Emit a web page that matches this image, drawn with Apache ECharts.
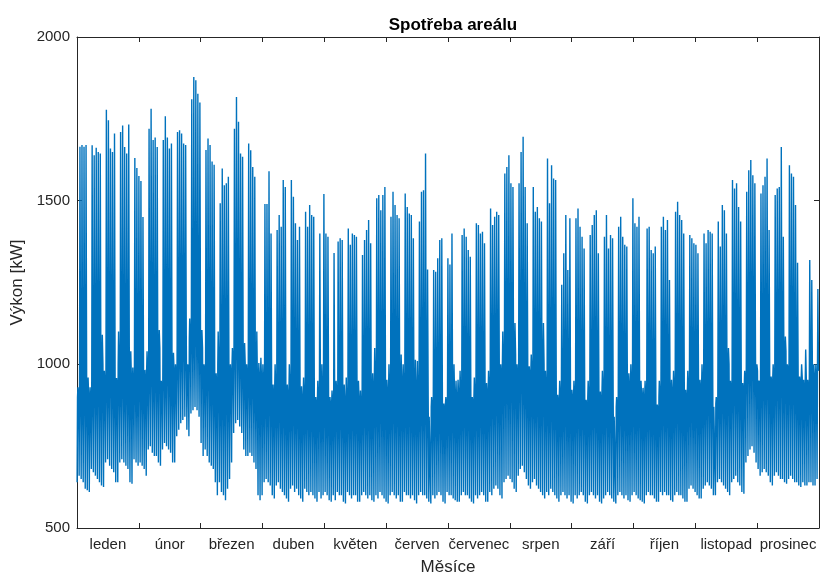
<!DOCTYPE html>
<html>
<head>
    <meta charset="utf-8">
    <title>Spotřeba areálu</title>
    <script src="https://cdn.jsdelivr.net/npm/echarts@6/dist/echarts.min.js"></script>
    <style>
        html, body { margin: 0; padding: 0; background: #fff; }
        #main { width: 821px; height: 575px; }
    </style>
</head>
<body>
<div id="main"></div>
<script>
    // měsíce na ose x
    var months = ['leden', 'únor', 'březen', 'duben', 'květen', 'červen',
        'červenec', 'srpen', 'září', 'říjen', 'listopad', 'prosinec'];

    // denní maxima [kW], po týdnech Po..Ne (rok začíná pondělím)
    var dayPeak = [
        930, 1665, 1670, 1665, 1670, 960, 930,
        1669, 1639, 1662, 1649, 1644, 1090, 980,
        1778, 1746, 1659, 1649, 1705, 958, 1100,
        1710, 1730, 1664, 1644, 1733, 1040, 990,
        1630, 1600, 1575, 1560, 1450, 983, 1040,
        1720, 1781, 1685, 1693, 1664, 1105, 950,
        1685, 1758, 1693, 1659, 1675, 1035, 1000,
        1710, 1715, 1705, 1675, 1670, 1000, 1140,
        1810, 1878, 1868, 1827, 1800, 1105, 1000,
        1655, 1690, 1670, 1620, 1610, 973, 1100,
        1492, 1598, 1547, 1553, 1573, 1000, 1050,
        1720, 1817, 1741, 1644, 1634, 1065, 1000,
        1675, 1654, 1603, 1573, 1100, 1004, 1020,
        1000, 1490, 1490, 1590, 1400, 938, 1000,
        1410, 1456, 1420, 1563, 1542, 938, 1000,
        1563, 1512, 1431, 1380, 1420, 933, 960,
        1466, 1420, 1487, 1456, 1451, 900, 950,
        1400, 1000, 1520, 1400, 1390, 900, 920,
        1340, 950, 1375, 1385, 1380, 938, 960,
        1415, 1365, 1400, 1395, 1390, 950, 920,
        1334, 1380, 1410, 1441, 1370, 973, 1050,
        1507, 1517, 1471, 1517, 1542, 953, 1000,
        1451, 1527, 1487, 1456, 1446, 1030, 1000,
        1522, 1481, 1461, 1456, 1385, 1014, 1010,
        1436, 1527, 1532, 1644, 1290, 846, 900,
        1288, 1283, 1324, 1380, 1385, 880, 900,
        1324, 1305, 1400, 1000, 950, 953, 980,
        1395, 1415, 1390, 1349, 1329, 900, 960,
        1431, 1426, 1400, 1405, 1370, 943, 980,
        1476, 1426, 1451, 1466, 1456, 1000, 1100,
        1583, 1603, 1639, 1553, 1542, 1126, 1000,
        1553, 1649, 1695, 1542, 1431, 994, 1030,
        1542, 1466, 1481, 1446, 1436, 1126, 980,
        1629, 1492, 1608, 1568, 1563, 907, 950,
        1243, 1339, 1456, 1288, 1446, 922, 950,
        1446, 1476, 1420, 1390, 1354, 892, 950,
        1395, 1426, 1456, 1471, 1339, 917, 980,
        1390, 1456, 1354, 1395, 1385, 841, 900,
        1420, 1451, 1390, 1365, 1360, 973, 1000,
        1507, 1431, 1420, 1451, 950, 928, 950,
        1415, 1420, 1349, 1339, 1360, 877, 950,
        1420, 1451, 1410, 1441, 1258, 953, 980,
        1466, 1497, 1456, 1441, 1400, 922, 980,
        1395, 1385, 1370, 1365, 1339, 953, 1000,
        1400, 1370, 1410, 1405, 1400, 872, 900,
        1436, 1360, 1487, 1471, 1400, 1050, 950,
        1563, 1537, 1553, 1481, 1436, 943, 980,
        1527, 1593, 1624, 1578, 1553, 1000, 950,
        1522, 1547, 1573, 1629, 1410, 963, 1000,
        1517, 1537, 1542, 1664, 1390, 1085, 1000,
        1608, 1583, 1573, 1487, 1310, 963, 1000,
        953, 1045, 953, 1319, 1258, 1000, 1000,
        1230
    ];

    // denní minima [kW] (noc)
    var dayLow = [
        640, 660, 650, 640, 620, 615, 610,
        680, 670, 660, 650, 640, 630, 625,
        700, 710, 690, 680, 670, 640, 640,
        700, 710, 700, 690, 680, 640, 635,
        710, 700, 690, 700, 690, 680, 660,
        740, 750, 730, 720, 720, 700, 690,
        740, 760, 750, 740, 730, 700, 700,
        780, 800, 820, 830, 840, 800, 780,
        850, 860, 870, 860, 840, 760, 720,
        740, 720, 700, 690, 680, 640, 600,
        640, 610, 600, 585, 620, 650, 700,
        790, 820, 830, 810, 790, 740, 720,
        720, 730, 720, 700, 680, 600, 585,
        600, 640, 650, 640, 630, 600, 590,
        630, 640, 620, 610, 600, 590, 580,
        620, 630, 610, 620, 600, 590, 580,
        620, 610, 600, 610, 600, 590, 580,
        610, 590, 600, 610, 600, 585, 580,
        600, 585, 610, 600, 600, 580, 575,
        610, 600, 590, 600, 600, 580, 580,
        600, 610, 600, 590, 600, 585, 580,
        600, 590, 610, 600, 590, 580, 575,
        600, 610, 600, 590, 600, 580, 580,
        610, 600, 600, 590, 600, 585, 575,
        600, 610, 600, 600, 590, 580, 575,
        600, 590, 600, 610, 600, 580, 575,
        610, 600, 600, 590, 585, 580, 580,
        600, 610, 600, 600, 590, 580, 575,
        600, 590, 600, 610, 600, 580, 580,
        610, 600, 620, 630, 620, 600, 590,
        640, 650, 660, 650, 640, 620, 610,
        660, 680, 690, 670, 650, 630, 620,
        640, 650, 630, 620, 610, 600, 590,
        610, 600, 620, 610, 600, 590, 580,
        600, 610, 600, 590, 600, 580, 575,
        600, 590, 600, 610, 600, 580, 575,
        600, 610, 600, 590, 600, 580, 575,
        590, 600, 610, 600, 590, 580, 575,
        600, 610, 600, 590, 600, 585, 580,
        600, 610, 600, 590, 585, 580, 575,
        600, 610, 600, 600, 590, 580, 580,
        610, 600, 610, 600, 600, 585, 580,
        600, 610, 600, 600, 590, 580, 580,
        620, 630, 620, 610, 600, 590, 590,
        620, 630, 640, 630, 620, 600, 600,
        640, 650, 640, 630, 620, 610, 600,
        640, 650, 660, 640, 630, 610, 605,
        700, 720, 740, 750, 730, 700, 680,
        660, 670, 680, 670, 660, 640, 630,
        660, 670, 660, 650, 650, 640, 635,
        650, 660, 650, 640, 640, 630, 625,
        640, 630, 630, 640, 640, 630, 630,
        650
    ];

    // ranní/večerní hladina [kW] (horní okraj hustého pásu)
    var dayBand = [
        900, 960, 930, 980, 940, 900, 880,
        950, 1000, 970, 1020, 960, 1000, 930,
        1000, 980, 1040, 990, 960, 930, 1000,
        980, 1020, 960, 1000, 970, 960, 930,
        990, 950, 1010, 970, 960, 940, 980,
        1020, 1060, 990, 1040, 1000, 1050, 930,
        1030, 990, 1060, 1010, 980, 980, 960,
        1060, 1100, 1080, 1120, 1090, 980, 1080,
        1150, 1120, 1180, 1130, 1100, 1050, 980,
        1020, 1060, 990, 1000, 960, 930, 1000,
        940, 980, 960, 1000, 950, 960, 1000,
        1100, 1140, 1090, 1060, 1030, 1000, 960,
        1010, 980, 1020, 960, 950, 950, 960,
        930, 960, 920, 980, 940, 900, 930,
        920, 950, 900, 940, 910, 890, 920,
        910, 940, 900, 930, 890, 880, 900,
        900, 930, 890, 920, 900, 870, 890,
        920, 900, 940, 890, 910, 870, 880,
        900, 920, 880, 930, 900, 880, 870,
        910, 890, 930, 900, 920, 890, 870,
        900, 940, 910, 930, 890, 900, 950,
        950, 920, 960, 930, 940, 900, 920,
        930, 960, 920, 950, 910, 940, 920,
        940, 910, 950, 920, 900, 920, 900,
        920, 950, 930, 960, 900, 840, 870,
        880, 900, 870, 910, 890, 860, 880,
        900, 880, 920, 900, 880, 900, 910,
        920, 940, 900, 930, 890, 880, 900,
        930, 900, 940, 910, 920, 900, 920,
        950, 980, 940, 990, 960, 960, 1000,
        1020, 1050, 1000, 1040, 1010, 1030, 960,
        1020, 1060, 1010, 1000, 970, 960, 980,
        960, 940, 980, 930, 950, 1000, 920,
        950, 910, 960, 930, 940, 880, 900,
        890, 920, 950, 900, 930, 890, 900,
        920, 940, 900, 930, 910, 870, 900,
        900, 930, 950, 920, 890, 880, 920,
        910, 940, 890, 920, 900, 840, 870,
        920, 950, 900, 930, 910, 920, 940,
        940, 910, 930, 950, 900, 890, 900,
        920, 930, 900, 910, 890, 860, 900,
        930, 950, 920, 940, 900, 900, 920,
        940, 960, 930, 920, 910, 890, 920,
        930, 950, 920, 940, 910, 920, 940,
        940, 960, 980, 950, 930, 870, 880,
        960, 930, 990, 970, 950, 1000, 920,
        990, 1020, 980, 1000, 970, 920, 940,
        1040, 1080, 1060, 1090, 1050, 980, 940,
        1000, 1030, 1010, 1040, 980, 940, 960,
        1010, 1040, 1000, 1060, 990, 1040, 980,
        1020, 1000, 1030, 990, 960, 940, 960,
        920, 960, 930, 980, 990, 960, 950,
        980
    ];

    var pts = [];
    for (var d = 0; d < dayPeak.length; d++) {
        pts.push([d + 0.05, dayLow[d]]);
        pts.push([d + 0.25, dayBand[d]]);
        pts.push([d + 0.45, dayPeak[d]]);
        pts.push([d + 0.75, dayBand[d]]);
    }

    var font = 'Liberation Sans, Arial, Helvetica, sans-serif';
    var axisColor = '#262626';

    var myChart = echarts.init(document.getElementById('main'));
    var option = {
        animation: false,
        backgroundColor: '#ffffff',
        title: {
            text: 'Spotřeba areálu',
            left: 448,
            top: 12,
            textAlign: 'center',
            textStyle: { fontFamily: font, fontSize: 17, fontWeight: 'bold', color: '#000' }
        },
        grid: { left: 77, right: 2, top: 37, bottom: 47, outerBoundsMode: 'none', containLabel: false },
        xAxis: [
            {
                type: 'category',
                data: months,
                boundaryGap: true,
                axisLine: { lineStyle: { color: axisColor, width: 1 } },
                axisTick: { show: true, inside: true, length: 5, interval: 0, lineStyle: { color: axisColor } },
                axisLabel: { interval: 0, color: axisColor, fontSize: 15, fontFamily: font, margin: 9 },
                splitLine: { show: false },
                name: 'Měsíce',
                nameLocation: 'middle',
                nameGap: 31,
                nameTextStyle: { color: axisColor, fontSize: 17, fontFamily: font }
            },
            {
                type: 'category',
                position: 'top',
                data: months,
                boundaryGap: true,
                axisLine: { lineStyle: { color: axisColor, width: 1 } },
                axisTick: { show: true, inside: true, length: 5, interval: 0, lineStyle: { color: axisColor } },
                axisLabel: { show: false },
                splitLine: { show: false }
            },
            {
                type: 'value',
                min: 0,
                max: 365,
                show: false
            }
        ],
        yAxis: [
            {
                type: 'value',
                min: 500,
                max: 2000,
                interval: 500,
                axisLine: { show: true, lineStyle: { color: axisColor, width: 1 } },
                axisTick: { show: true, inside: true, length: 5, lineStyle: { color: axisColor } },
                axisLabel: {
                    color: axisColor, fontSize: 15, fontFamily: font, margin: 7,
                    formatter: function (v) { return String(v); }
                },
                splitLine: { show: false },
                name: 'Výkon [kW]',
                nameLocation: 'middle',
                nameGap: 43,
                nameTextStyle: { color: axisColor, fontSize: 17, fontFamily: font }
            },
            {
                type: 'value',
                position: 'right',
                min: 500,
                max: 2000,
                interval: 500,
                axisLine: { show: true, lineStyle: { color: axisColor, width: 1 } },
                axisTick: { show: true, inside: true, length: 5, lineStyle: { color: axisColor } },
                axisLabel: { show: false },
                splitLine: { show: false }
            }
        ],
        series: [
            {
                name: 'Výkon',
                type: 'line',
                xAxisIndex: 2,
                yAxisIndex: 0,
                data: pts,
                showSymbol: false,
                symbol: 'none',
                silent: true,
                lineStyle: { color: '#0072bd', width: 1.4 }
            }
        ]
    };
    myChart.setOption(option);
</script>
</body>
</html>
